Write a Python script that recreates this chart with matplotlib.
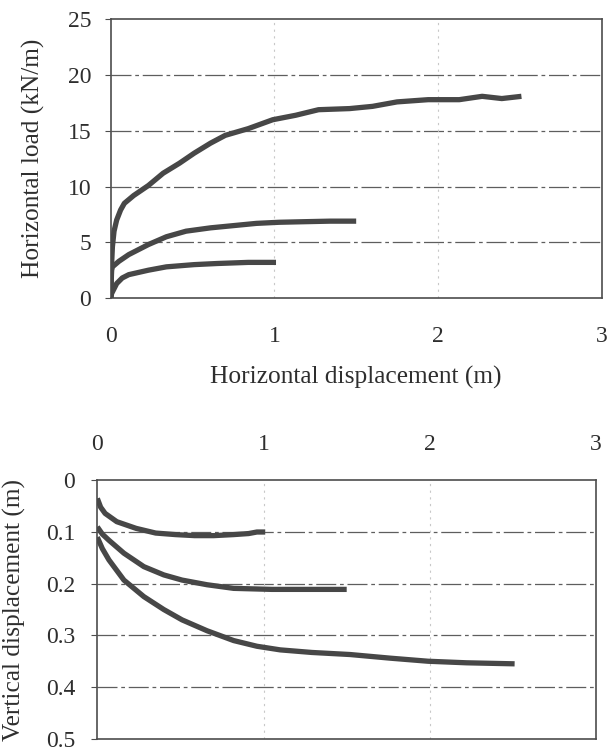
import matplotlib
matplotlib.use('Agg')
import matplotlib.pyplot as plt

plt.rcParams['font.family'] = ['Liberation Serif', 'DejaVu Serif']

# top chart: horizontal load vs horizontal displacement
load_x1 = [0, 0.005, 0.01, 0.02, 0.036, 0.06, 0.083, 0.14, 0.23, 0.32, 0.42, 0.51, 0.61, 0.70, 0.84, 0.99,
           1.13, 1.27, 1.46, 1.60, 1.75, 1.94, 2.13, 2.27, 2.39, 2.51]
load_y1 = [0, 3.0, 4.6, 6.0, 7.0, 7.9, 8.5, 9.2, 10.1, 11.2, 12.1, 13.0, 13.9, 14.6, 15.2, 16.0,
           16.4, 16.9, 17.0, 17.2, 17.6, 17.8, 17.8, 18.1, 17.9, 18.1]
load_x2 = [0, 0.005, 0.01, 0.05, 0.11, 0.23, 0.34, 0.46, 0.61, 0.75, 0.89, 1.03, 1.18, 1.34, 1.50]
load_y2 = [0, 2.5, 2.8, 3.3, 3.9, 4.8, 5.5, 6.0, 6.3, 6.5, 6.7, 6.8, 6.85, 6.9, 6.9]
load_x3 = [0, 0.005, 0.036, 0.07, 0.11, 0.23, 0.34, 0.51, 0.65, 0.84, 1.01]
load_y3 = [0, 0.4, 1.3, 1.8, 2.1, 2.5, 2.8, 3.0, 3.1, 3.2, 3.2]

# bottom chart: vertical displacement vs horizontal displacement
vert_x1 = [0, 0.02, 0.047, 0.117, 0.234, 0.351, 0.47, 0.585, 0.70, 0.82, 0.91, 0.96, 1.01]
vert_y1 = [0.035, 0.052, 0.064, 0.080, 0.093, 0.102, 0.105, 0.107, 0.107, 0.105, 0.103, 0.100, 0.100]
vert_x2 = [0, 0.03, 0.07, 0.16, 0.28, 0.40, 0.51, 0.66, 0.82, 1.05, 1.29, 1.50]
vert_y2 = [0.09, 0.104, 0.116, 0.141, 0.167, 0.183, 0.193, 0.202, 0.209, 0.211, 0.211, 0.211]
vert_x3 = [0, 0.03, 0.07, 0.16, 0.28, 0.40, 0.51, 0.66, 0.82, 0.96, 1.10, 1.29, 1.52, 1.76, 1.99, 2.22, 2.51]
vert_y3 = [0.11, 0.132, 0.154, 0.193, 0.225, 0.250, 0.270, 0.291, 0.310, 0.321, 0.328, 0.333, 0.337,
           0.344, 0.350, 0.353, 0.355]

x_ticks = [0, 1, 2, 3]
load_ticks = [0, 5, 10, 15, 20, 25]
vert_ticks = [0, 0.1, 0.2, 0.3, 0.4, 0.5]
vert_labels = ['0', '0.1', '0.2', '0.3', '0.4', '0.5']

line_col = '#474747'
text_col = '#2e2e2e'
frame_col = '#4d4d4d'
fs = 17
lfs = 18.3

fig = plt.figure(figsize=(6.12, 7.47), dpi=100)
ax1 = fig.add_axes([0.181, 0.601, 0.802, 0.373])
ax2 = fig.add_axes([0.159, 0.011, 0.815, 0.346])

for ax in (ax1, ax2):
    for s in ax.spines.values():
        s.set_color(frame_col)
        s.set_linewidth(1.2)
    ax.tick_params(colors=frame_col, labelcolor=text_col, labelsize=fs, length=4, width=0.8)
    ax.set_xlim(0, 3)
    ax.set_xticks(x_ticks)
    ax.set_xticklabels([str(t) for t in x_ticks])

# top chart
for t in load_ticks[1:-1]:
    ax1.axhline(t, color='#5e5e5e', lw=0.9, ls=(0, (16, 3, 3, 3)), zorder=1)
for t in [1, 2]:
    ax1.axvline(t, color='#c8c8c8', lw=0.8, ls=(0, (2, 4)), zorder=1)
ax1.plot(load_x1, load_y1, color=line_col, lw=3.8, solid_capstyle='butt', zorder=3)
ax1.plot(load_x2, load_y2, color=line_col, lw=3.8, solid_capstyle='butt', zorder=3)
ax1.plot(load_x3, load_y3, color=line_col, lw=3.8, solid_capstyle='butt', zorder=3)
ax1.set_ylim(0, 25)
ax1.set_yticks(load_ticks)
ax1.tick_params(axis='x', pad=20, length=0)
ax1.tick_params(axis='y', pad=10)
ax1.set_xlabel('Horizontal displacement (m)', fontsize=lfs, color=text_col)
ax1.xaxis.set_label_coords(0.5, -0.245)
ax1.set_ylabel('Horizontal load (kN/m)', fontsize=lfs, color=text_col)
ax1.yaxis.set_label_coords(-0.134, 0.5)

# bottom chart
for t in vert_ticks[1:-1]:
    ax2.axhline(t, color='#5e5e5e', lw=0.9, ls=(0, (16, 3, 3, 3)), zorder=1)
for t in [1, 2]:
    ax2.axvline(t, color='#c8c8c8', lw=0.8, ls=(0, (2, 4)), zorder=1)
ax2.plot(vert_x1, vert_y1, color=line_col, lw=3.8, solid_capstyle='butt', zorder=3)
ax2.plot(vert_x2, vert_y2, color=line_col, lw=3.8, solid_capstyle='butt', zorder=3)
ax2.plot(vert_x3, vert_y3, color=line_col, lw=3.8, solid_capstyle='butt', zorder=3)
ax2.set_ylim(0.5, 0)
ax2.set_yticks(vert_ticks)
ax2.set_yticklabels(vert_labels)
ax2.xaxis.tick_top()
ax2.tick_params(axis='x', pad=18, length=0)
ax2.tick_params(axis='y', pad=12)
ax2.set_ylabel('Vertical displacement (m)', fontsize=lfs, color=text_col)
ax2.yaxis.set_label_coords(-0.142, 0.5)

fig.savefig('out.png', dpi=100)
